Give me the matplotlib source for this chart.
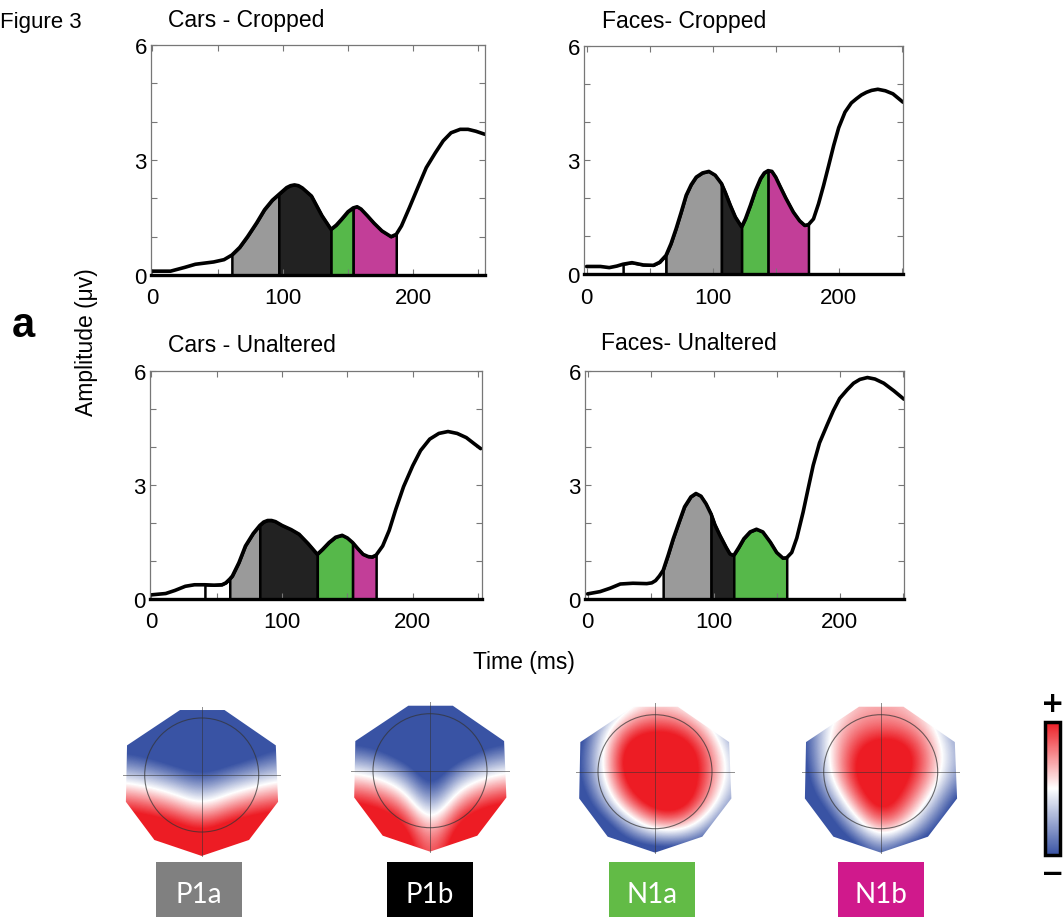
import numpy as np
import matplotlib
matplotlib.use('Agg')
import matplotlib.pyplot as plt
from matplotlib.patches import Polygon, Circle, Rectangle
from matplotlib.colors import LinearSegmentedColormap, Normalize
from matplotlib.cm import ScalarMappable

plt.rcParams['font.family'] = ['Liberation Sans', 'DejaVu Sans']

# ---- ERP waveforms: time (ms), amplitude (uV) ----
cars_crop_t = [0, 14, 25, 33, 47, 55, 61, 67, 73, 80, 86, 92, 97, 103, 106, 109, 112, 115, 122, 130,
               137, 141, 145, 150, 154, 157, 160, 165, 170, 176, 183, 187, 191, 197, 204, 210, 217,
               223, 229, 236, 242, 248, 255]
cars_crop_v = [0.10, 0.10, 0.20, 0.28, 0.34, 0.40, 0.52, 0.72, 1.00, 1.36, 1.70, 1.95, 2.10, 2.28,
               2.33, 2.35, 2.33, 2.27, 2.06, 1.55, 1.19, 1.30, 1.45, 1.65, 1.75, 1.78, 1.72, 1.54,
               1.35, 1.15, 1.00, 1.06, 1.28, 1.75, 2.32, 2.80, 3.19, 3.50, 3.71, 3.80, 3.80, 3.75,
               3.67]

faces_crop_t = [0, 11, 18, 24, 29, 36, 45, 53, 58, 63, 67, 71, 75, 79, 83, 87, 92, 97, 102, 107, 110,
                114, 118, 123, 126, 130, 134, 138, 141, 144, 147, 150, 153, 158, 164, 169, 173, 176,
                180, 184, 188, 192, 196, 200, 205, 210, 214, 218, 222, 226, 231, 237, 243, 251]
faces_crop_v = [0.20, 0.20, 0.17, 0.21, 0.26, 0.30, 0.24, 0.23, 0.31, 0.49, 0.80, 1.19, 1.62, 2.07,
                2.35, 2.55, 2.66, 2.70, 2.60, 2.38, 2.15, 1.81, 1.50, 1.24, 1.45, 1.81, 2.20, 2.51,
                2.66, 2.72, 2.70, 2.55, 2.34, 2.00, 1.63, 1.40, 1.28, 1.30, 1.45, 1.85, 2.33, 2.85,
                3.38, 3.85, 4.26, 4.50, 4.61, 4.71, 4.78, 4.83, 4.86, 4.82, 4.74, 4.52]

cars_unalt_t = [0, 11, 18, 26, 33, 41, 48, 54, 57, 60, 62, 67, 72, 78, 83, 86, 89, 92, 95, 100, 107,
                113, 120, 127, 131, 136, 141, 146, 150, 154, 158, 162, 166, 169, 172, 177, 182, 187,
                193, 200, 206, 213, 220, 227, 234, 241, 247, 252]
cars_unalt_v = [0.105, 0.14, 0.22, 0.33, 0.37, 0.37, 0.36, 0.37, 0.42, 0.52, 0.60, 0.95, 1.39, 1.72,
                1.93, 2.02, 2.06, 2.06, 2.03, 1.93, 1.82, 1.70, 1.45, 1.17, 1.30, 1.48, 1.62, 1.67,
                1.60, 1.48, 1.32, 1.17, 1.11, 1.10, 1.15, 1.39, 1.80, 2.35, 2.95, 3.50, 3.90, 4.20,
                4.35, 4.40, 4.35, 4.24, 4.08, 3.95]

faces_unalt_t = [0, 10, 18, 26, 36, 47, 51, 54, 57, 60, 64, 68, 73, 77, 82, 86, 90, 94, 98, 101, 105,
                 110, 113, 116, 120, 124, 129, 134, 139, 145, 150, 155, 158, 162, 166, 171, 175, 179,
                 184, 190, 195, 200, 206, 211, 216, 222, 228, 235, 243, 251]
faces_unalt_v = [0.13, 0.19, 0.28, 0.39, 0.41, 0.40, 0.42, 0.48, 0.60, 0.75, 1.15, 1.58, 2.05, 2.42,
                 2.68, 2.77, 2.70, 2.50, 2.23, 1.95, 1.67, 1.35, 1.18, 1.14, 1.35, 1.58, 1.76, 1.83,
                 1.76, 1.49, 1.22, 1.07, 1.08, 1.22, 1.60, 2.28, 2.90, 3.51, 4.10, 4.57, 4.95, 5.27,
                 5.50, 5.67, 5.77, 5.82, 5.78, 5.67, 5.47, 5.25]

# component window edges (ms): P1a | P1b | N1a | N1b
cars_crop_edges = [61, 97, 137, 154, 187]
faces_crop_edges = [63, 107, 123, 144, 176]
cars_unalt_edges = [60, 83, 127, 154, 172]
faces_unalt_edges = [60, 98, 116, 158]
# empty (outlined) windows
faces_crop_white = [29, 63]
cars_unalt_white = [41, 60]

titles = ['Cars - Cropped', 'Faces- Cropped', 'Cars - Unaltered', 'Faces- Unaltered']
seg_colors = ['#9a9a9a', '#222222', '#56b84a', '#c23e98']

# ---- topographies (rows top->bottom, cols left->right) ----
p1a_map = [[-2.5, -2.5, -2.5, -2.5, -2.5, -2.5, -2.5],
           [-2.5, -2.5, -2.5, -2.5, -2.5, -2.5, -2.2],
           [-1.6, -1.9, -2.3, -2.5, -2.3, -1.9, -1.4],
           [-0.1, -0.4, -0.9, -1.5, -0.9, -0.4, 0.0],
           [1.6, 1.3, 0.8, 0.0, 0.8, 1.3, 1.6],
           [2.5, 2.5, 2.3, 1.8, 2.3, 2.5, 2.5],
           [2.5, 2.5, 2.5, 2.5, 2.5, 2.5, 2.5]]
p1b_map = [[-2.5, -2.5, -2.5, -2.5, -2.5, -2.5, -2.5],
           [-2.5, -2.5, -2.5, -2.5, -2.5, -2.5, -2.5],
           [-1.4, -1.7, -2.4, -2.5, -2.4, -1.7, -1.3],
           [0.2, -0.1, -0.9, -2.5, -0.9, -0.1, 0.25],
           [1.8, 1.5, 0.7, -1.6, 0.7, 1.5, 1.8],
           [2.5, 2.5, 2.1, -0.1, 2.1, 2.5, 2.5],
           [2.5, 2.5, 2.5, 0.8, 2.5, 2.5, 2.5]]
n1a_map = [[-2.5, -1.8, -0.4, 0.1, -0.1, -1.0, -2.5],
           [-2.5, -0.5, 1.2, 1.7, 1.4, 0.3, -1.6],
           [-2.2, -0.1, 2.5, 2.5, 2.5, 1.2, -0.9],
           [-2.2, -0.2, 2.4, 2.5, 2.5, 1.3, -0.8],
           [-2.5, -1.1, 1.3, 2.5, 2.5, 0.7, -1.3],
           [-2.5, -2.5, -1.0, 0.6, 0.6, -0.9, -2.5],
           [-2.5, -2.5, -2.5, -2.5, -2.5, -2.5, -2.5]]
n1b_map = [[-2.5, -0.6, 0.4, 0.5, 0.4, -0.4, -2.5],
           [-2.2, 0.0, 0.9, 1.2, 1.0, 0.2, -1.5],
           [-2.2, -0.1, 1.7, 2.5, 2.2, 0.6, -1.0],
           [-2.5, -0.3, 1.9, 2.5, 2.0, 0.5, -1.3],
           [-2.5, -1.6, 0.9, 2.5, 1.3, -0.5, -2.3],
           [-2.5, -2.5, -0.9, 1.2, 0.1, -1.8, -2.5],
           [-2.5, -2.5, -2.5, -1.4, -2.5, -2.5, -2.5]]
head_outline = [(-0.38, 1.14), (0.40, 1.14), (1.30, 0.52), (1.34, -0.47), (0.83, -1.14),
                (0.0, -1.42), (-0.83, -1.14), (-1.33, -0.47), (-1.31, 0.52)]
comp_names = ['P1a', 'P1b', 'N1a', 'N1b']
comp_colors = ['#808080', '#000000', '#62bb46', '#d0198c']

W, H = 1064, 920
fig = plt.figure(figsize=(W / 100, H / 100), dpi=100)

panels = [
    ([0.1419, 0.700, 0.3139, 0.250], (-1, 255), cars_crop_t, cars_crop_v, cars_crop_edges, None, (168, 27)),
    ([0.5489, 0.701, 0.2998, 0.248], (-2, 251), faces_crop_t, faces_crop_v, faces_crop_edges, faces_crop_white, (602, 28)),
    ([0.1410, 0.348, 0.3120, 0.248], (-1, 253), cars_unalt_t, cars_unalt_v, cars_unalt_edges, cars_unalt_white, (168, 352)),
    ([0.5498, 0.348, 0.2998, 0.248], (-2, 251), faces_unalt_t, faces_unalt_v, faces_unalt_edges, None, (601, 350)),
]

for (rect, xl, t, v, edges, white, txy), title in zip(panels, titles):
    ax = fig.add_axes(rect)
    t = np.array(t)
    v = np.array(v)
    if white:
        m = (t >= white[0]) & (t <= white[1])
        ax.fill_between(t, 0, v, where=m, facecolor='white', edgecolor='black', lw=1.8)
    for a, b, c in zip(edges[:-1], edges[1:], seg_colors):
        m = (t >= a) & (t <= b)
        ax.fill_between(t, 0, v, where=m, facecolor=c, edgecolor='black', lw=1.8)
    ax.plot(t, v, color='black', lw=2.6, solid_capstyle='round', solid_joinstyle='round')
    ax.axhline(0, color='black', lw=2.4, clip_on=False, zorder=5)
    ax.set_xlim(xl)
    ax.set_ylim(0, 6)
    ax.set_xticks([0, 100, 200])
    ax.set_xticks([50, 150, 250], minor=True)
    ax.set_yticks([0, 3, 6])
    ax.set_yticks([1, 2, 4, 5], minor=True)
    ax.tick_params(which='both', direction='in', top=True, right=True, color='#777777',
                   length=4, width=0.8, labelsize=16)
    ax.tick_params(axis='x', pad=9)
    ax.tick_params(axis='y', pad=3)
    for s in ax.spines.values():
        s.set_color('#777777')
        s.set_linewidth(0.9)
    fig.text(txy[0] / W, 1 - txy[1] / H, title, fontsize=16.5, ha='left', va='baseline')

fig.text(0.0, 1 - 28 / H, 'Figure 3', fontsize=16, ha='left', va='baseline')
fig.text(12 / W, 1 - 337 / H, 'a', fontsize=30, fontweight='bold', ha='left', va='baseline')
fig.text(87 / W, 1 - 342 / H, 'Amplitude (μv)', fontsize=16.5, rotation=90, ha='center', va='center')
fig.text(524 / W, 1 - 663 / H, 'Time (ms)', fontsize=16.5, ha='center', va='center')

# ---- scalp maps ----
cmap = LinearSegmentedColormap.from_list('topo', ['#3953a4', '#ffffff', '#ed1c24'])
map_norm = Normalize(-1.7, 1.7)
R = 57
map_cx = [201.7, 430, 655, 880.7]
map_cy = [776, 771.7, 772.7, 772.7]
label_cx = [199, 430, 652, 881]

for vals, cx, cy in zip([p1a_map, p1b_map, n1a_map, n1b_map], map_cx, map_cy):
    ax = fig.add_axes([(cx - 1.5 * R) / W, (H - cy - 1.5 * R) / H, 3 * R / W, 2.75 * R / H])
    poly = Polygon(head_outline, closed=True, facecolor='none', edgecolor='none')
    ax.add_patch(poly)
    im = ax.imshow(np.array(vals), extent=(-1.633, 1.633, -1.617, 1.417), cmap=cmap, norm=map_norm,
                   interpolation='bicubic', interpolation_stage='data', origin='upper', aspect='auto')
    im.set_clip_path(poly)
    ax.add_patch(Circle((0, 0), 1, fill=False, ec='#333333', lw=0.8, alpha=0.7))
    ax.plot([-1.38, 1.38], [0, 0], color='#333333', lw=0.7, alpha=0.55)
    ax.plot([0, 0], [-1.42, 1.2], color='#333333', lw=0.7, alpha=0.55)
    ax.set_xlim(-1.5, 1.5)
    ax.set_ylim(-1.5, 1.25)
    ax.axis('off')

for name, col, cx in zip(comp_names, comp_colors, label_cx):
    fig.add_artist(Rectangle(((cx - 43) / W, (H - 918) / H), 86 / W, 55 / H,
                             transform=fig.transFigure, facecolor=col, edgecolor='none'))
    fig.text(cx / W, (H - 903) / H, name, color='white', fontsize=20, family='Lato',
             ha='center', va='baseline')

cax = fig.add_axes([1045 / W, (H - 856) / H, 15 / W, 133 / H])
cb = fig.colorbar(ScalarMappable(norm=Normalize(-1, 1), cmap=cmap), cax=cax)
cb.set_ticks([])
cax.minorticks_off()
cb.outline.set_linewidth(2.5)
fig.text(1053 / W, 1 - 704 / H, '+', fontsize=20, fontweight='bold', ha='center', va='center',
         family='DejaVu Sans')
fig.text(1053 / W, 1 - 874 / H, '\u2212', fontsize=20, fontweight='bold', ha='center', va='center',
         family='DejaVu Sans')

fig.savefig('out.png', dpi=100)
